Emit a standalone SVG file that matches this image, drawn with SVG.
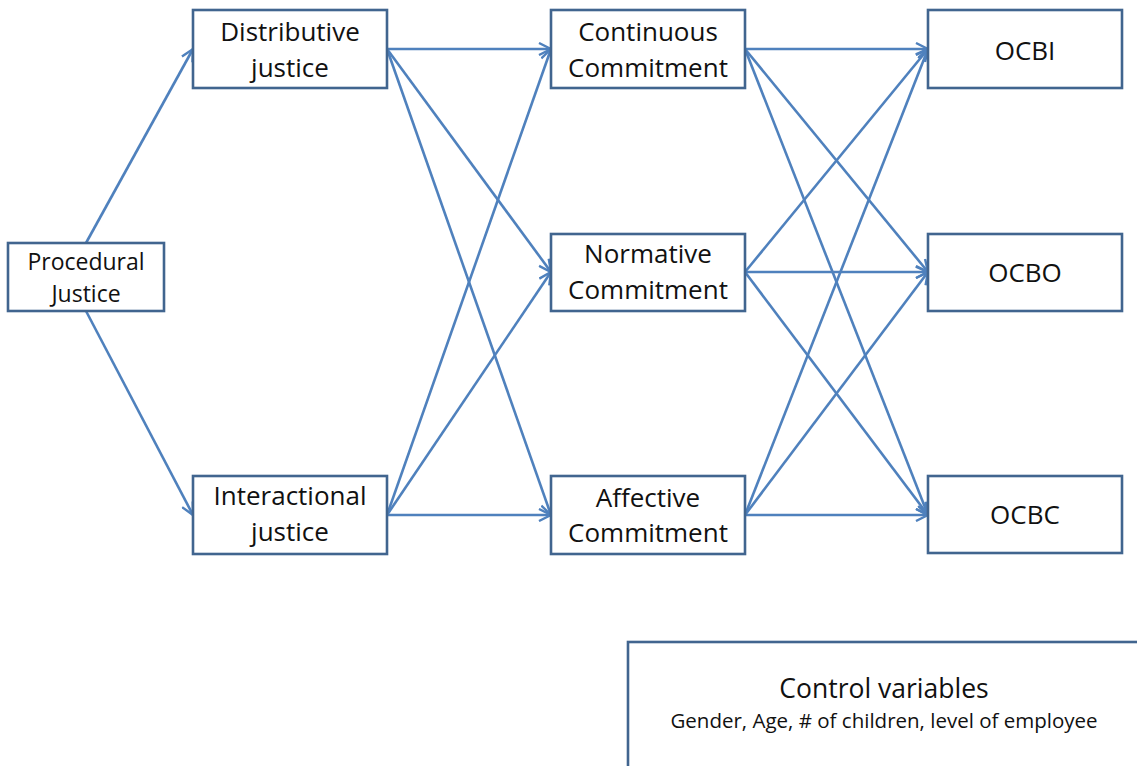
<svg xmlns="http://www.w3.org/2000/svg" width="1137" height="766" viewBox="0 0 1137 766">
<style>
.box{fill:#fff;stroke:#41658f;stroke-width:2.6}
.t{font-family:"Open Sans","Liberation Sans",sans-serif;fill:#111;text-anchor:middle}
.l{font-size:26px}
.p{font-size:23px}
.c{stroke:#4f81bd;stroke-width:2.6;fill:none;marker-end:url(#ah)}
</style>
<defs>
<marker id="ah" viewBox="0 0 14 14" refX="13" refY="7" markerWidth="14" markerHeight="14" markerUnits="userSpaceOnUse" orient="auto">
<path d="M1,1 L13,7 L1,13" fill="none" stroke="#4f81bd" stroke-width="2.4" stroke-linejoin="miter"/>
</marker>
</defs>
<rect width="1137" height="766" fill="#fff"/>
<g id="connectors">
<line class="c" x1="86" y1="243" x2="193" y2="49"/>
<line class="c" x1="86" y1="311" x2="193" y2="515"/>
<line class="c" x1="387" y1="49" x2="551" y2="49"/>
<line class="c" x1="387" y1="49" x2="551" y2="272"/>
<line class="c" x1="387" y1="49" x2="551" y2="515"/>
<line class="c" x1="387" y1="515" x2="551" y2="49"/>
<line class="c" x1="387" y1="515" x2="551" y2="272"/>
<line class="c" x1="387" y1="515" x2="551" y2="515"/>
<line class="c" x1="745" y1="49" x2="928" y2="49"/>
<line class="c" x1="745" y1="49" x2="928" y2="272"/>
<line class="c" x1="745" y1="49" x2="928" y2="515"/>
<line class="c" x1="745" y1="272" x2="928" y2="49"/>
<line class="c" x1="745" y1="272" x2="928" y2="272"/>
<line class="c" x1="745" y1="272" x2="928" y2="515"/>
<line class="c" x1="745" y1="515" x2="928" y2="49"/>
<line class="c" x1="745" y1="515" x2="928" y2="272"/>
<line class="c" x1="745" y1="515" x2="928" y2="515"/>
</g>
<g id="procedural">
<rect class="box" x="8" y="243" width="156" height="68"/>
<text class="t p" x="86" y="270">Procedural</text>
<text class="t p" x="86" y="302">Justice</text>
</g>
<g id="distributive">
<rect class="box" x="193" y="10" width="194" height="78"/>
<text class="t l" x="290" y="41">Distributive</text>
<text class="t l" x="290" y="77">justice</text>
</g>
<g id="interactional">
<rect class="box" x="193" y="476" width="194" height="78"/>
<text class="t l" x="290" y="505">Interactional</text>
<text class="t l" x="290" y="541">justice</text>
</g>
<g id="continuous">
<rect class="box" x="551" y="10" width="194" height="78"/>
<text class="t l" x="648" y="41">Continuous</text>
<text class="t l" x="648" y="77">Commitment</text>
</g>
<g id="normative">
<rect class="box" x="551" y="234" width="194" height="77"/>
<text class="t l" x="648" y="263">Normative</text>
<text class="t l" x="648" y="299">Commitment</text>
</g>
<g id="affective">
<rect class="box" x="551" y="476" width="194" height="78"/>
<text class="t l" x="648" y="507">Affective</text>
<text class="t l" x="648" y="542">Commitment</text>
</g>
<g id="ocbi">
<rect class="box" x="928" y="10" width="194" height="78"/>
<text class="t l" x="1025" y="60">OCBI</text>
</g>
<g id="ocbo">
<rect class="box" x="928" y="234" width="194" height="77"/>
<text class="t l" x="1025" y="282">OCBO</text>
</g>
<g id="ocbc">
<rect class="box" x="928" y="476" width="194" height="77"/>
<text class="t l" x="1025" y="524">OCBC</text>
</g>
<g id="control">
<rect class="box" x="628" y="642" width="530" height="140"/>
<text class="t" x="884" y="698" font-size="26.5">Control variables</text>
<text class="t" x="884" y="728" font-size="20.5">Gender, Age, # of children, level of employee</text>
</g>
</svg>
